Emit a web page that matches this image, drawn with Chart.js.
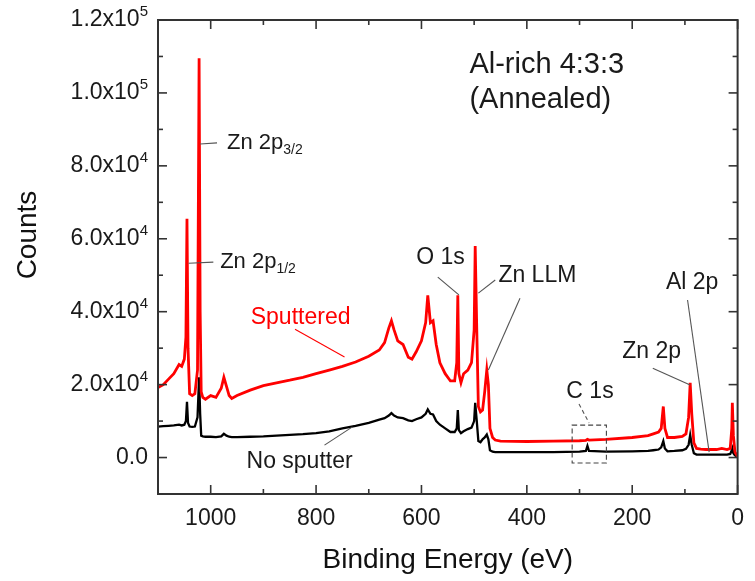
<!DOCTYPE html>
<html>
<head>
<meta charset="utf-8">
<script src="https://cdn.jsdelivr.net/npm/chart.js@4.4.1/dist/chart.umd.min.js"></script>
<style>
  html, body { margin: 0; padding: 0; background: #fff; }
  #wrap { width: 755px; height: 581px; }
</style>
</head>
<body>
<div id="wrap"><canvas id="xps" width="755" height="581"></canvas></div>
<script>
// binding energy grid (eV)
const energy = [
  1100, 1090, 1080, 1070, 1060, 1055, 1050, 1047, 1045, 1043, 1040, 1035, 1030, 1025, 1022, 1020, 1018,
  1015, 1010, 1000, 990, 980, 975, 970, 965, 960, 950, 925, 900, 875, 850, 825, 800, 775, 750, 725, 700,
  680, 670, 662, 657, 652, 645, 635, 625, 618, 610, 600, 592, 588, 583, 578, 572, 565, 555, 545, 537,
  533, 531, 529, 525, 520, 512, 505, 500, 498, 495, 492, 488, 484, 480, 476, 473, 470, 465, 460, 450,
  400, 350, 300, 288, 285, 282, 250, 200, 170, 160, 150, 145, 141, 138, 133, 120, 105, 98, 93, 90, 87,
  83, 78, 70, 60, 50, 40, 30, 20, 14, 11, 10, 8, 5, 0
];
// counts, sputtered sample (red)
const sputtered = [
  19200, 20000, 21500, 23000, 25500, 25000, 27000, 33000, 65500, 30000, 17500, 17000, 17500, 24000, 109500, 40000, 18000,
  16500, 16000, 17000, 16500, 19000, 22000, 19500, 17000, 16200, 17000, 18500, 19700, 20500, 21200, 22000, 23000, 24000, 25000, 26200, 27800,
  29500, 31500, 35500, 37500, 35000, 32000, 31000, 27500, 27000, 29000, 32000, 37000, 44500, 37000, 37500, 31000, 26000, 23000, 21000, 21000,
  26000, 44500, 23000, 20500, 23000, 24000, 26000, 35000, 58000, 35000, 14000, 12500, 13000, 18000, 24000, 20000, 8000, 5500, 4800, 4500,
  4400, 4500, 4600, 4700, 5000, 4800, 5000, 5500, 6000, 6500, 7000, 8000, 14000, 8000, 5500, 5500, 5800, 6500, 11000, 20500, 12000,
  4000, 2500, 2300, 2200, 2200, 2200, 2500, 2200, 2500, 8000, 15000, 6000, 1500, 300
];
// counts, as-received sample (black)
const noSputter = [
  8500, 8600, 8700, 8800, 9000, 8800, 9000, 10000, 15300, 9500, 8500, 8400, 8500, 11000, 22000, 12000, 6000,
  5800, 5700, 5700, 5600, 5800, 6500, 6000, 5700, 5600, 5600, 5700, 5800, 6000, 6200, 6400, 6700, 7200, 8000, 8700, 9500,
  10400, 10800, 11500, 12200, 11500, 11000, 10800, 10200, 10000, 10500, 11000, 12000, 13200, 12000, 11800, 10000, 9000, 8000, 7000, 7000,
  8000, 13000, 7500, 6700, 7200, 7800, 8200, 10000, 15000, 10000, 4500, 4200, 5000, 5500, 6300, 5000, 2000, 1600, 1500, 1500,
  1500, 1500, 1600, 1800, 3200, 1800, 1600, 1700, 1800, 2000, 2200, 2800, 4500, 2500, 1700, 1800, 2000, 2400, 3500, 6200, 3500,
  1200, 800, 800, 800, 800, 800, 800, 800, 1000, 2000, 2500, 1200, 600, 200
];
const xTicks = [1000, 800, 600, 400, 200, 0];
const yTicks = [0, 20000, 40000, 60000, 80000, 100000, 120000];
// mantissa x 10^exponent
const yTickLabels = [['0.0', ''], ['2.0x10', '4'], ['4.0x10', '4'], ['6.0x10', '4'], ['8.0x10', '4'], ['1.0x10', '5'], ['1.2x10', '5']];

const FONT = "'Liberation Sans', Arial, Helvetica, sans-serif";

// peak labels, anchored in data units (energy, counts)
const notes = [
  { parts: [['Al-rich 4:3:3']], at: [509, 107700], size: 29 },
  { parts: [['(Annealed)']], at: [509, 98000], size: 29 },
  { parts: [['Zn 2p'], ['3/2', 'sub']], at: [969, 86300], size: 22 },
  { parts: [['Zn 2p'], ['1/2', 'sub']], at: [982, 53600], size: 22 },
  { parts: [['Sputtered']], at: [924, 38500], size: 23, color: '#ff0000' },
  { parts: [['No sputter']], at: [932, -1200], size: 23 },
  { parts: [['O 1s']], at: [610, 54700], size: 23 },
  { parts: [['Zn LLM']], at: [454, 49800], size: 23 },
  { parts: [['C 1s']], at: [325, 18000], size: 23 },
  { parts: [['Zn 2p']], at: [219, 29000], size: 23 },
  { parts: [['Al 2p']], at: [136, 47900], size: 23 }
];
const leaders = [
  { from: [1020, 86000], to: [988, 86300] },
  { from: [1042, 53300], to: [995, 53600] },
  { from: [840, 35200], to: [746, 27600], color: '#ff0000' },
  { from: [784, 3400], to: [731, 8400] },
  { from: [569, 49500], to: [529, 44600] },
  { from: [460, 48700], to: [492, 45100] },
  { from: [413, 43700], to: [473, 24000] },
  { from: [301, 14700], to: [282, 9500], dash: true },
  { from: [161, 24500], to: [90, 19900] },
  { from: [95, 43200], to: [54, 1500] }
];
const c1sBox = { x: [314, 249], y: [8900, -1500] };

function drawParts(ctx, parts, x, y, size, color) {
  let cx = x;
  parts.forEach(([t, kind]) => {
    const s = kind === 'sub' ? Math.round(size * 0.65) : size;
    ctx.font = s + 'px ' + FONT;
    ctx.fillStyle = color;
    ctx.fillText(t, cx, kind === 'sub' ? y + size * 0.32 : y);
    cx += ctx.measureText(t).width;
  });
}

const framePlugin = {
  id: 'frame',
  afterDraw(chart) {
    const { ctx, chartArea: a, scales: { x, y } } = chart;
    const seg = (x1, y1, x2, y2) => { ctx.beginPath(); ctx.moveTo(x1, y1); ctx.lineTo(x2, y2); ctx.stroke(); };
    ctx.save();

    // leader lines and labels
    ctx.lineWidth = 1.1;
    leaders.forEach(l => {
      ctx.strokeStyle = l.color || '#555';
      ctx.setLineDash(l.dash ? [4, 3] : []);
      seg(x.getPixelForValue(l.from[0]), y.getPixelForValue(l.from[1]),
          x.getPixelForValue(l.to[0]), y.getPixelForValue(l.to[1]));
    });
    ctx.strokeStyle = '#444';
    ctx.setLineDash([5, 3]);
    const bx1 = x.getPixelForValue(c1sBox.x[0]), bx2 = x.getPixelForValue(c1sBox.x[1]);
    const by1 = y.getPixelForValue(c1sBox.y[0]), by2 = y.getPixelForValue(c1sBox.y[1]);
    ctx.strokeRect(bx1, by1, bx2 - bx1, by2 - by1);
    ctx.setLineDash([]);

    ctx.textAlign = 'left';
    ctx.textBaseline = 'middle';
    notes.forEach(n => {
      drawParts(ctx, n.parts, x.getPixelForValue(n.at[0]), y.getPixelForValue(n.at[1]), n.size, n.color || '#1a1a1a');
    });

    // y tick labels with raised exponent
    yTicks.forEach((v, i) => {
      const [base, exp] = yTickLabels[i];
      const py = y.getPixelForValue(v);
      ctx.font = '23px ' + FONT;
      const wb = ctx.measureText(base).width;
      ctx.font = '15px ' + FONT;
      const we = exp ? ctx.measureText(exp).width : 0;
      const x0 = a.left - 10 - wb - we;
      ctx.fillStyle = '#1a1a1a';
      ctx.font = '23px ' + FONT;
      ctx.fillText(base, x0, py);
      if (exp) {
        ctx.font = '15px ' + FONT;
        ctx.fillText(exp, x0 + wb, py - 8);
      }
    });

    // box with inward ticks on all four sides
    ctx.strokeStyle = '#333';
    ctx.lineWidth = 2;
    ctx.strokeRect(a.left, a.top, a.right - a.left, a.bottom - a.top);
    ctx.lineWidth = 1.6;
    for (let v = 0; v <= 1100; v += 100) {
      const px = x.getPixelForValue(v);
      const len = v % 200 === 0 ? 9 : 5;
      seg(px, a.bottom, px, a.bottom - len);
      seg(px, a.top, px, a.top + len);
    }
    for (let v = -10000; v <= 120000; v += 10000) {
      const py = y.getPixelForValue(v);
      const len = v % 20000 === 0 ? 9 : 5;
      seg(a.left, py, a.left + len, py);
      seg(a.right, py, a.right - len, py);
    }

    // y axis title
    ctx.translate(28, 235);
    ctx.rotate(-Math.PI / 2);
    ctx.textAlign = 'center';
    ctx.font = '28px ' + FONT;
    ctx.fillStyle = '#111';
    ctx.fillText('Counts', 0, 0);
    ctx.restore();
  }
};

new Chart(document.getElementById('xps'), {
  type: 'line',
  data: {
    datasets: [
      {
        label: 'Sputtered',
        data: energy.map((e, i) => ({ x: e, y: sputtered[i] })),
        borderColor: '#ff0000',
        borderWidth: 2.8,
        pointRadius: 0,
        tension: 0
      },
      {
        label: 'No sputter',
        data: energy.map((e, i) => ({ x: e, y: noSputter[i] })),
        borderColor: '#000000',
        borderWidth: 2.3,
        pointRadius: 0,
        tension: 0
      }
    ]
  },
  options: {
    responsive: false,
    animation: false,
    layout: { padding: { top: 20, right: 9, left: 0, bottom: 0 } },
    plugins: { legend: { display: false }, tooltip: { enabled: false } },
    scales: {
      x: {
        type: 'linear',
        reverse: true,
        min: 0,
        max: 1100,
        grid: { display: false, drawTicks: false },
        border: { display: false },
        afterBuildTicks: s => { s.ticks = xTicks.map(v => ({ value: v })); },
        afterFit: s => { s.height = 87; },
        ticks: {
          autoSkip: false, maxRotation: 0, padding: 11, color: '#1a1a1a',
          font: { family: FONT, size: 23 },
          callback: v => String(v)
        },
        title: { display: true, text: 'Binding Energy (eV)', color: '#111', padding: { top: 0, bottom: 4 }, font: { family: FONT, size: 28 } }
      },
      y: {
        min: -10000,
        max: 120000,
        grid: { display: false, drawTicks: false },
        border: { display: false },
        afterBuildTicks: s => { s.ticks = yTicks.map(v => ({ value: v })); },
        afterFit: s => { s.width = 158; },
        // labels are drawn by the frame plugin so the exponent can be raised
        ticks: { padding: 10, callback: () => '' }
      }
    }
  },
  plugins: [framePlugin]
});
</script>
</body>
</html>
